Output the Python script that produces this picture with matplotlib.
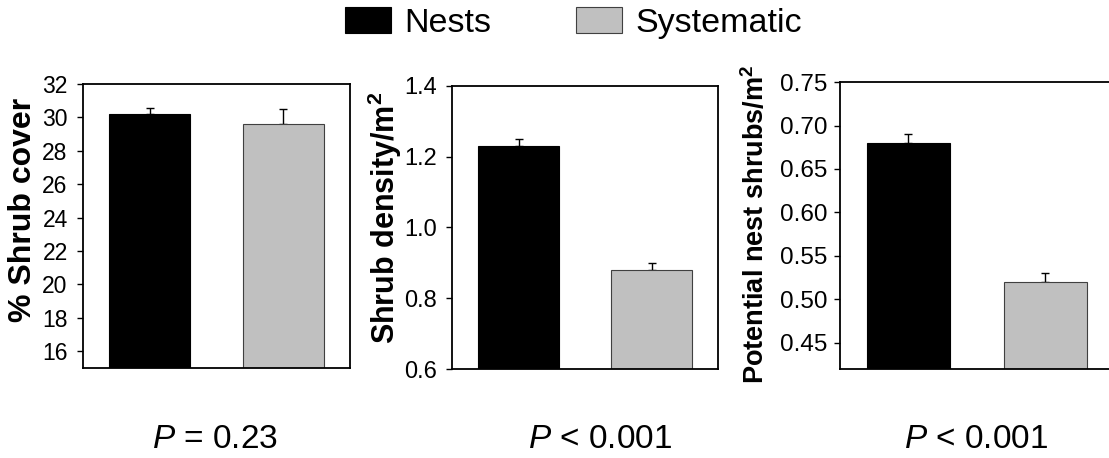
import numpy as np
import matplotlib
matplotlib.use("Agg")
import matplotlib.pyplot as plt
from matplotlib.patches import Patch

plt.rcParams['font.family'] = ['Liberation Sans', 'DejaVu Sans']
plt.rcParams['mathtext.fontset'] = 'custom'
plt.rcParams['mathtext.rm'] = 'Liberation Sans'
plt.rcParams['mathtext.it'] = 'Liberation Sans:italic'
plt.rcParams['mathtext.bf'] = 'Liberation Sans:bold'

# Data
groups = ["Nests", "Systematic"]
colors = ["black", "#c0c0c0"]

cover_mean = [30.2, 29.6]
cover_err = [0.35, 0.9]
density_mean = [1.23, 0.88]
density_err = [0.02, 0.02]
potential_mean = [0.68, 0.52]
potential_err = [0.01, 0.01]

ylabels = ["% Shrub cover", r"Shrub density/m$^{\mathbf{2}}$",
           r"Potential nest shrubs/m$^{\mathbf{2}}$"]
ylims = [(15, 32), (0.6, 1.4), (0.42, 0.75)]
yticks = [np.arange(16, 33, 2), [0.6, 0.8, 1.0, 1.2, 1.4],
          [0.45, 0.50, 0.55, 0.60, 0.65, 0.70, 0.75]]
ytickfmt = ["{:.0f}", "{:.1f}", "{:.2f}"]
p_labels = [r"$P$ = 0.23", r"$P$ < 0.001", r"$P$ < 0.001"]

# Layout (figure fractions)
positions = [
    [0.0748, 0.1965, 0.2408, 0.620],
    [0.4076, 0.1943, 0.2399, 0.618],
    [0.7574, 0.1943, 0.2471, 0.6266],
]
label_x = [-0.168, -0.18, -0.256]
label_y = [0.555, 0.534, 0.505]
label_size = [23, 22, 19.5]
tick_size = [16.5, 17, 17.5]
tick_pad = [7, 7, 5]
p_x = [215, 600, 976]

fig = plt.figure(figsize=(11.09, 4.58), dpi=100)

means = [cover_mean, density_mean, potential_mean]
errs = [cover_err, density_err, potential_err]

for i in range(3):
    ax = fig.add_axes(positions[i])
    x = np.arange(len(groups))
    ax.bar(x, means[i], width=0.61, color=colors, edgecolor=["black", "#404040"],
           linewidth=0.8, zorder=2)
    ax.errorbar(x, means[i], yerr=[np.zeros(2), errs[i]], fmt='none',
                ecolor='black', elinewidth=1.0, capsize=3, capthick=1.0, zorder=1)
    ax.set_xlim(-0.5, 1.5)
    ax.set_ylim(*ylims[i])
    ax.set_yticks(yticks[i])
    ax.set_yticklabels([ytickfmt[i].format(v) for v in yticks[i]])
    ax.set_xticks([])
    ax.tick_params(axis='y', direction='out', length=4, width=1.0,
                   labelsize=tick_size[i], pad=tick_pad[i])
    for sp in ax.spines.values():
        sp.set_linewidth(1.3)
    ax.set_ylabel(ylabels[i], fontsize=label_size[i], fontweight='bold')
    ax.yaxis.set_label_coords(label_x[i], label_y[i])
    fig.text(p_x[i] / 1109, 1 - 439 / 458, p_labels[i], fontsize=24,
             ha='center', va='center')

handles = [Patch(facecolor=colors[0], edgecolor='black', linewidth=0.8),
           Patch(facecolor=colors[1], edgecolor='#404040', linewidth=0.8)]
fig.legend(handles, groups, loc='upper left', bbox_to_anchor=(0.310, 0.989),
           ncol=2, frameon=False, fontsize=24.5, handlelength=1.35,
           handleheight=0.82, handletextpad=0.38, columnspacing=2.5,
           borderpad=0.05, borderaxespad=0)

fig.savefig("out.png", dpi=100)
